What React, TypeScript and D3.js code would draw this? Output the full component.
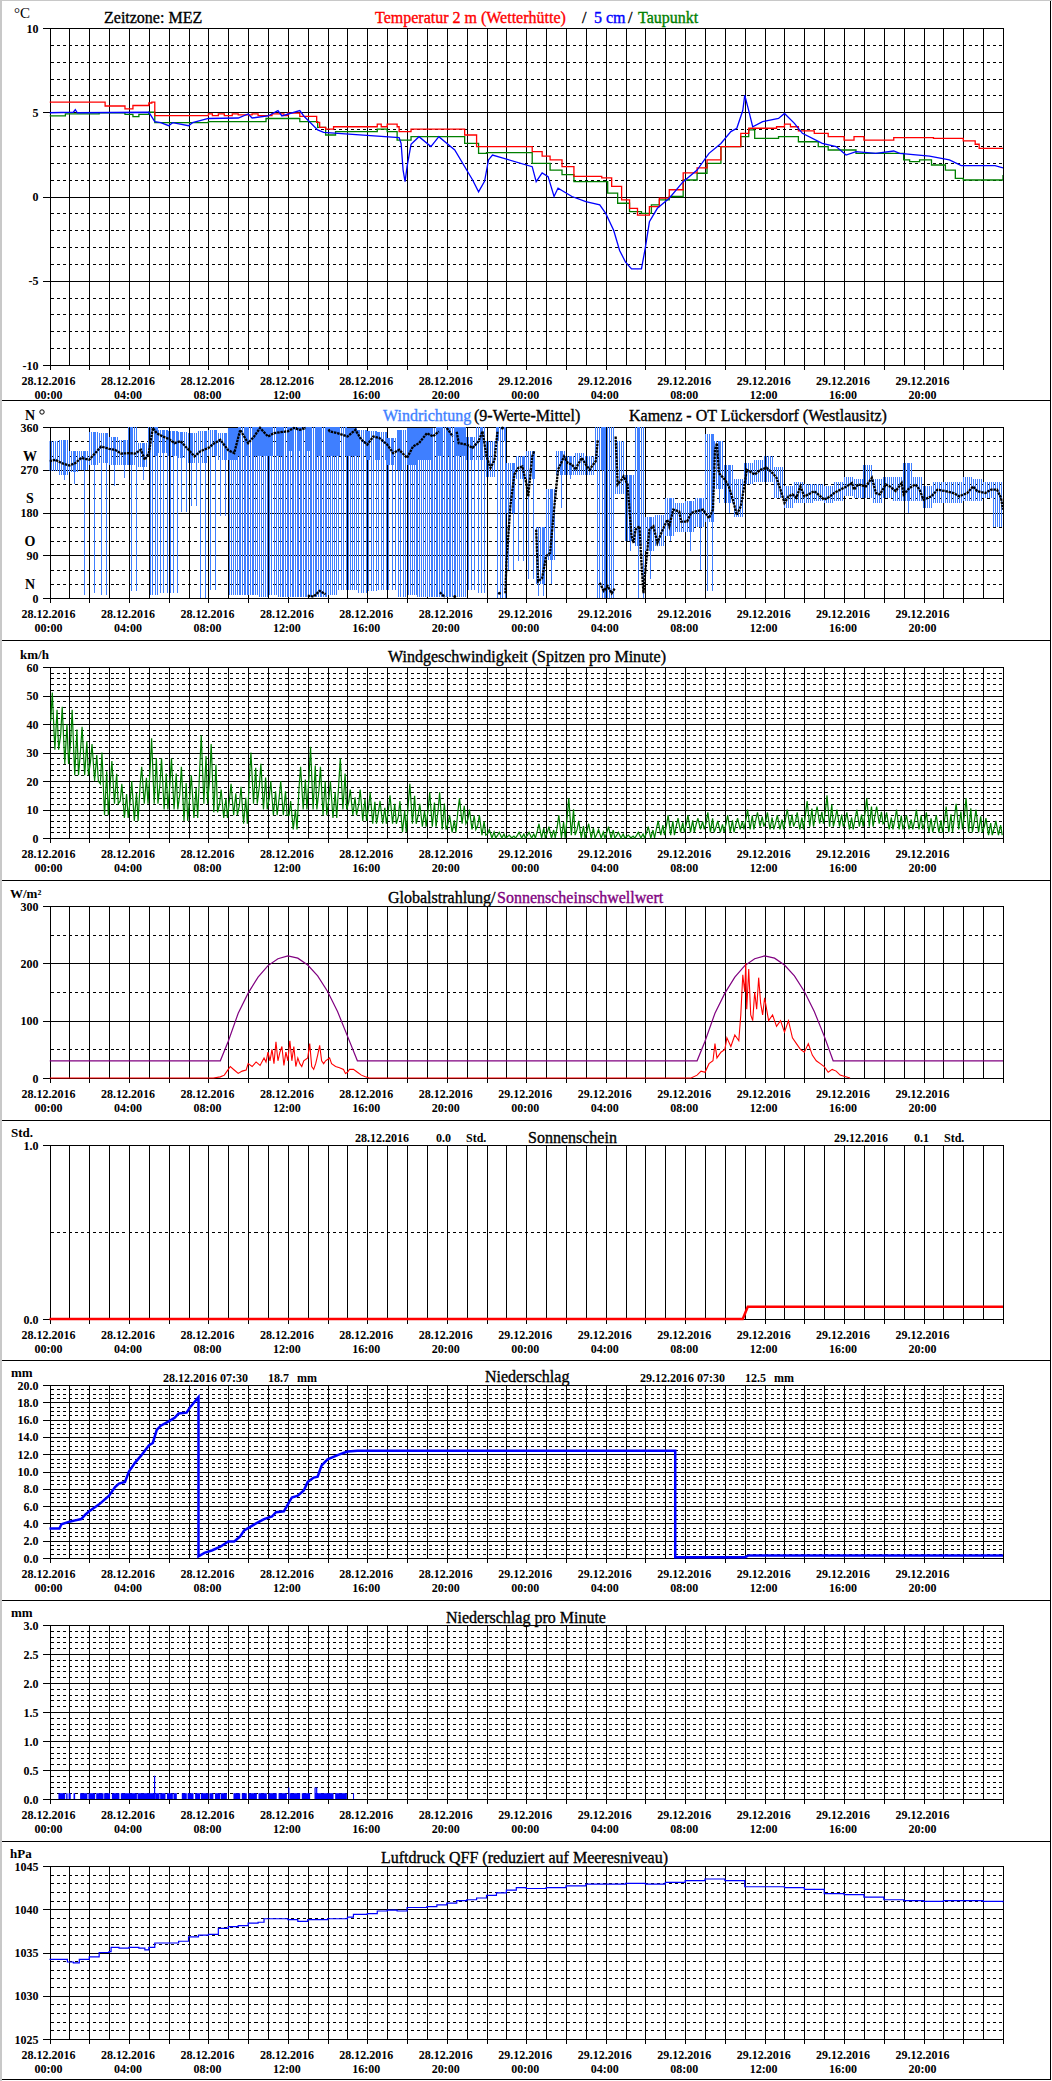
import React, { useEffect, useRef } from "react";
import * as d3 from "d3";

// ---------- labels ----------
const dayLabels = ["28.12.2016", "29.12.2016"];
const clockLabels = ["00:00", "04:00", "08:00", "12:00", "16:00", "20:00"];

// ---------- panel 1: temperature (hour, °C) ----------
const tempAir: [number, number][] = [[0,5.6],[2.8,5.37],[3.8,5.2],[4.2,5.4],[5.0,5.55],[5.15,5.6],[5.3,4.8],[7.9,4.8],[8.0,4.9],[8.2,4.8],[8.5,4.9],[8.8,4.8],[9.2,4.9],[9.5,4.85],[10.2,4.9],[10.5,4.8],[11.2,4.9],[11.8,4.8],[12.0,4.95],[12.6,4.75],[13.45,4.4],[13.6,4.1],[13.9,4.0],[14.3,4.14],[16.5,4.3],[16.7,4.14],[17.0,4.3],[17.5,4.14],[17.6,3.85],[18.2,4.0],[20.9,3.65],[21.5,2.96],[24.3,2.66],[24.8,2.4],[25.2,2.17],[25.8,1.77],[26.4,1.2],[27.8,1.1],[28.3,0.6],[28.8,-0.2],[29.2,-0.7],[29.6,-1.1],[30.2,-0.6],[30.7,-0.1],[31.2,0.4],[31.9,1.4],[32.6,1.7],[33.1,2.17],[33.8,2.96],[34.8,3.75],[35.2,4.05],[36.6,4.14],[37.0,4.3],[37.3,4.14],[37.7,3.9],[38.5,3.75],[39.2,3.55],[40,3.35],[40.5,3.55],[41,3.35],[42.5,3.5],[43.5,3.5],[44.5,3.45],[45.5,3.45],[46.0,3.3],[46.6,3.1],[46.8,2.86],[48,2.86]];
const temp5cm: [number, number][] = [[0,4.97],[1.2,5.0],[1.3,5.15],[1.4,4.97],[5.0,5.0],[5.3,4.44],[5.6,4.38],[6.0,4.2],[6.2,4.38],[7.0,4.2],[7.2,4.38],[8.0,4.63],[9.5,4.66],[10.0,4.9],[10.2,4.66],[11.0,4.78],[11.5,5.1],[11.7,4.78],[12.6,5.1],[12.8,4.78],[13.5,3.95],[13.8,3.8],[17.6,3.5],[17.7,3.15],[17.8,1.57],[17.9,0.88],[18.0,1.77],[18.2,3.1],[18.6,3.55],[19.2,2.96],[19.6,3.55],[20.4,2.76],[21.3,0.98],[21.6,0.28],[21.9,0.9],[22.1,2.17],[22.3,2.46],[24.3,1.77],[24.5,0.88],[24.8,1.4],[25.1,1.18],[25.4,0.0],[25.6,0.5],[26.3,0.0],[27.0,-0.3],[27.7,-0.5],[28.0,-1.0],[28.4,-2.0],[28.7,-3.2],[29.0,-3.9],[29.3,-4.3],[29.8,-4.3],[30.0,-3.0],[30.2,-1.5],[30.6,-0.7],[31.2,-0.1],[31.9,0.88],[32.6,1.57],[33.2,2.56],[33.8,3.15],[34.3,3.85],[34.6,4.05],[34.9,5.1],[35.0,6.02],[35.2,5.1],[35.4,4.14],[35.9,4.44],[36.7,4.63],[37.0,4.93],[37.5,4.34],[37.9,3.75],[38.9,3.15],[39.6,2.96],[40.1,2.46],[40.6,2.66],[41.6,2.56],[42.5,2.7],[42.8,2.56],[44.3,2.4],[45.3,2.17],[45.9,1.83],[47.6,1.83],[48,1.7]];
const tempDew: [number, number][] = [[0,4.78],[0.8,4.9],[2.5,4.97],[3.8,4.87],[4.2,4.74],[4.5,4.87],[5.0,5.0],[5.3,4.38],[8.0,4.44],[10.9,4.63],[12.6,4.44],[13.5,4.1],[13.9,3.65],[14.4,3.85],[16.5,4.0],[17.0,3.85],[17.5,3.35],[18.2,3.55],[20.9,3.15],[21.6,2.56],[22.0,2.6],[24.3,1.97],[25.2,1.57],[25.8,1.3],[26.4,0.88],[28.1,0.2],[28.6,-0.4],[29.2,-0.9],[29.8,-1.0],[30.3,-0.5],[30.7,-0.2],[31.2,0.0],[31.9,0.98],[32.6,1.38],[33.1,1.97],[33.8,2.96],[34.8,3.55],[35.2,3.95],[35.5,3.45],[36.7,3.55],[37.7,3.25],[38.7,2.96],[39.2,2.76],[40.6,2.56],[41.6,2.56],[43.0,2.17],[43.3,2.07],[43.8,2.17],[44.4,1.87],[45.1,1.57],[45.6,1.08],[46.0,0.98],[47.9,0.98],[48,1.28]];

// ---------- panel 2: wind direction ----------
const windDirMean: [number, number][] = [[0,288],[0.3,291],[0.6,284],[1.0,279],[1.3,284],[1.6,295],[2.0,291],[2.3,305],[2.6,319],[3.0,314],[3.3,312],[3.6,304],[4.0,305],[4.3,304],[4.6,312],[4.8,291],[5.0,305],[5.2,358],[5.4,347],[5.7,340],[6.0,335],[6.3,326],[6.6,330],[7.0,312],[7.3,298],[7.6,309],[8.0,316],[8.3,326],[8.6,333],[9.0,311],[9.3,305],[9.6,354],[10.0,326],[10.3,340],[10.6,358],[11.0,340],[11.3,347],[11.6,349],[12.0,351],[12.3,358],[12.6,354],[12.9,358],[13.0,5],[13.3,3],[13.6,15],[13.9,8],[14.05,355],[14.1,351],[14.5,347],[15.0,340],[15.4,354],[15.7,333],[16.0,323],[16.3,340],[16.6,337],[17.0,323],[17.3,305],[17.6,312],[18.0,295],[18.3,319],[18.6,326],[19.0,347],[19.3,340],[19.6,351],[19.65,12],[19.9,2],[20.0,358],[20.3,340],[20.4,3],[20.5,350],[20.6,326],[21.0,323],[21.3,316],[21.6,330],[21.8,351],[22.0,298],[22.2,274],[22.4,290],[22.55,350],[22.65,10],[22.8,358],[22.95,10],[23.0,74],[23.2,193],[23.4,260],[23.6,274],[23.8,277],[24.0,242],[24.1,214],[24.3,298],[24.4,309],[24.5,144],[24.6,35],[24.8,42],[25.0,88],[25.2,95],[25.4,186],[25.6,270],[25.8,288],[25.9,298],[26.1,284],[26.3,281],[26.5,270],[26.6,281],[26.8,295],[27.0,281],[27.2,270],[27.3,277],[27.5,288],[27.6,333],[27.7,32],[27.9,15],[28.1,25],[28.3,10],[28.45,20],[28.5,340],[28.6,239],[28.8,249],[28.9,256],[29.1,239],[29.3,130],[29.4,116],[29.5,144],[29.7,151],[29.8,74],[29.9,10],[30.0,60],[30.2,144],[30.4,151],[30.6,116],[30.8,137],[31.1,165],[31.2,151],[31.4,186],[31.7,182],[31.8,161],[32.1,161],[32.3,179],[32.5,182],[32.9,186],[33.2,168],[33.4,186],[33.5,312],[33.6,326],[33.7,263],[34.0,249],[34.2,235],[34.4,207],[34.6,175],[34.8,193],[35.0,242],[35.1,270],[35.5,260],[35.8,270],[36.1,274],[36.4,263],[36.6,253],[36.8,228],[37.0,200],[37.2,214],[37.4,218],[37.6,211],[37.8,235],[38.0,214],[38.2,218],[38.5,225],[38.7,218],[39.0,207],[39.3,214],[39.5,221],[39.8,228],[40.0,232],[40.4,242],[40.5,228],[40.7,239],[41.1,235],[41.4,253],[41.6,221],[41.8,218],[42.1,239],[42.3,235],[42.6,225],[42.9,242],[43.0,218],[43.3,232],[43.6,239],[43.8,228],[44.0,207],[44.4,214],[44.7,228],[45.1,225],[45.5,221],[45.8,214],[46.2,221],[46.5,235],[46.7,225],[47.1,221],[47.4,228],[47.7,228],[47.9,211],[48.0,186]];
// per 30-minute bin: top of raw values, bottom of dense band, deepest spike, number of deep spikes
const windRawHi = [330,333,310,309,349,347,340,333,360,326,360,354,351,349,347,351,354,347,358,360,360,360,360,360,360,360,360,360,360,360,358,354,351,349,337,354,358,358,358,360,360,360,340,360,330,360,285,300,310,150,230,310,300,305,300,360,360,330,260,360,170,175,210,200,205,210,345,330,280,250,285,290,300,275,235,245,240,240,235,245,255,250,280,250,255,255,285,255,235,245,245,245,255,250,245,245];
const windRawBand = [267,260,265,270,280,285,280,280,280,275,300,305,300,295,285,285,300,290,290,300,300,300,300,300,310,310,310,300,300,300,300,300,290,290,280,270,280,290,290,300,300,300,290,290,255,330,180,250,250,30,80,260,260,260,260,270,0,220,120,110,100,110,130,140,140,150,160,230,200,170,240,245,245,210,190,200,200,205,200,205,215,210,210,200,210,205,205,205,190,200,200,200,205,205,210,150];
const windRawLo = [267,249,239,7,10,7,235,253,14,249,7,10,10,182,193,0,17,172,7,7,7,3,7,3,3,3,3,3,7,17,17,10,14,17,17,3,7,3,3,3,3,3,17,10,255,0,60,77,40,5,30,190,250,255,255,0,0,220,100,0,40,100,120,130,100,60,15,200,180,160,240,240,240,200,185,195,195,200,195,205,215,210,205,195,210,205,180,205,180,195,200,200,205,205,210,150];
const windRawSpikes = [0,1,1,1,1,2,1,1,2,1,4,3,3,2,2,2,2,2,5,6,6,5,4,6,6,6,6,6,5,4,5,4,4,4,3,4,5,5,6,6,6,5,3,3,0,4,2,2,2,2,1,1,1,0,0,4,0,0,1,2,1,0,1,0,1,1,2,1,1,0,0,0,0,0,0,0,0,0,0,0,0,0,0,0,0,0,1,0,0,0,0,0,0,0,0,0];

// ---------- panel 3: wind speed peaks, per 30-minute bin ----------
const windSpeedHi = [51,46,45,39,33,30,27,19,20,25,35,28,28,25,22,36,33,17,19,18,30,26,20,20,13,25,32,25,20,28,17,17,16,13,15,13,19,12,16,16,8,14,10,8,3,2,1,2,2,5,4,8,14,6,5,3,4,2,1,2,4,6,8,7,8,7,9,6,8,7,10,9,9,8,10,9,13,11,15,10,9,10,14,11,9,10,8,10,9,8,11,12,14,10,7,6];
const windSpeedLo = [31,26,22,22,20,8,12,7,6,12,12,10,10,6,7,12,9,7,8,5,12,10,8,8,3,10,10,8,7,10,8,6,5,5,5,2,5,4,4,3,2,5,3,1,0,0,0,0,0,0,0,0,1,0,0,0,0,0,0,0,0,1,1,2,2,3,2,2,2,3,3,4,3,3,4,3,4,5,4,4,3,4,4,5,3,3,3,3,2,2,2,3,2,2,1,1];

// ---------- panel 4: global radiation & threshold ----------
const radiation: [number, number][] = [[0,0],[8.25,0],[8.6,2],[8.8,5],[9.0,15],[9.1,20],[9.3,14],[9.5,8],[9.7,12],[9.9,14],[10.0,25],[10.2,20],[10.4,28],[10.6,22],[10.8,35],[10.9,28],[11.0,45],[11.1,30],[11.2,50],[11.3,25],[11.4,63],[11.5,30],[11.6,45],[11.7,55],[11.8,22],[11.9,45],[12.0,30],[12.1,65],[12.2,30],[12.3,55],[12.4,20],[12.5,35],[12.6,25],[12.7,20],[12.8,30],[13.0,35],[13.1,60],[13.2,20],[13.3,15],[13.4,25],[13.5,40],[13.6,57],[13.7,30],[13.8,25],[13.9,30],[14.1,35],[14.2,25],[14.4,20],[14.6,18],[14.8,15],[14.9,8],[15.0,10],[15.1,15],[15.3,15],[15.5,10],[15.7,5],[15.9,2],[16.1,0],[32.3,0],[32.6,5],[32.8,12],[33.0,10],[33.2,25],[33.4,30],[33.5,60],[33.6,35],[33.8,45],[34.0,50],[34.1,70],[34.3,55],[34.5,75],[34.7,65],[34.8,110],[34.9,180],[35.0,150],[35.05,200],[35.1,120],[35.2,190],[35.3,110],[35.4,100],[35.5,150],[35.6,120],[35.7,175],[35.8,130],[35.9,110],[36.0,140],[36.2,100],[36.4,110],[36.6,90],[36.8,100],[37.0,80],[37.2,100],[37.4,70],[37.6,60],[37.8,50],[38.0,45],[38.2,60],[38.4,40],[38.6,30],[38.8,25],[39.0,20],[39.2,10],[39.4,15],[39.6,12],[39.8,5],[40.0,3],[40.3,0]];
const sunThreshold: [number, number][] = [[0,30],[8.6,30],[9.0,64],[9.5,113],[10.0,148],[10.5,176],[11.0,196],[11.5,208],[12.0,213],[12.5,209],[13.0,197],[13.5,178],[14.0,151],[14.5,116],[15.0,73],[15.5,30],[32.6,30],[33.0,64],[33.5,113],[34.0,148],[34.5,176],[35.0,196],[35.5,208],[36.0,213],[36.5,209],[37.0,197],[37.5,178],[38.0,151],[38.5,116],[39.0,73],[39.45,30],[48,30]];

// ---------- panel 5: sunshine hours ----------
const sunshine: [number, number][] = [[0,0],[34.9,0],[35.15,0.07],[48,0.07]];

// ---------- panel 6: precipitation sum ----------
const precipSum: [number, number][] = [[0,3.4],[0.5,3.4],[0.6,3.9],[1.0,4.2],[1.3,4.35],[1.6,4.5],[1.8,5.0],[2.0,5.4],[2.5,6.2],[3.0,7.2],[3.3,8.2],[3.5,8.6],[3.8,8.8],[4.0,10.0],[4.3,11.0],[4.6,11.8],[5.0,13.0],[5.2,13.3],[5.4,14.8],[5.6,15.3],[6.0,15.8],[6.3,16.2],[6.5,16.7],[6.9,16.8],[7.1,17.5],[7.5,18.6],[7.5,0.2],[7.8,0.6],[8.2,0.9],[8.6,1.3],[9.0,1.9],[9.3,1.9],[9.6,2.5],[9.8,3.2],[10.1,3.6],[10.4,4.0],[10.8,4.5],[11.2,4.8],[11.4,5.3],[11.8,5.4],[12.0,6.2],[12.2,7.0],[12.5,7.2],[12.8,7.8],[13.0,8.8],[13.3,9.3],[13.5,9.4],[13.7,10.7],[14.0,11.4],[14.5,11.9],[15.0,12.3],[15.5,12.4],[31.5,12.4],[31.5,0.1],[35.0,0.1],[35.2,0.3],[48,0.3]];

// ---------- panel 7: precipitation per minute ----------
const precipRuns: [number, number][] = [[0.45,0.79],[0.84,0.91],[0.96,1.07],[1.21,1.29],[1.54,1.91],[1.96,2.30],[2.35,2.72],[2.75,3.05],[3.14,3.52],[3.59,4.40],[4.43,5.27],[5.32,5.54],[5.57,5.84],[5.91,6.21],[6.24,6.41],[6.66,6.91],[6.95,7.25],[7.33,7.58],[7.62,8.0],[8.05,8.25],[8.33,8.6],[8.63,8.93],[9.26,9.60],[9.68,9.93],[10.02,10.44],[10.52,10.94],[11.02,11.44],[11.53,11.95],[12.08,12.62],[12.70,13.12],[13.37,14.30],[14.38,14.97],[15.28,15.31]];
const precipRunValue = 0.1;
const precipPeaks: [number, number][] = [[5.29,0.4],[12.05,0.2],[13.37,0.2],[13.45,0.2]];

// ---------- panel 8: pressure ----------
const pressure: [number, number][] = [[0,1034.2],[0.9,1033.9],[1.2,1033.8],[1.5,1034.2],[2.0,1034.5],[2.5,1035.0],[3.0,1035.1],[3.1,1035.6],[3.5,1035.5],[4.0,1035.6],[4.5,1035.5],[4.8,1035.3],[5.0,1035.6],[5.3,1036.1],[6.0,1036.1],[6.5,1036.3],[7.0,1036.8],[7.5,1037.0],[8.0,1037.1],[8.5,1037.8],[9.0,1038.0],[9.5,1038.1],[10.0,1038.4],[10.5,1038.5],[10.8,1038.9],[12.0,1038.8],[12.5,1038.6],[13.0,1038.8],[14.0,1038.9],[15.0,1039.1],[15.3,1039.4],[16.0,1039.5],[16.5,1039.8],[17.0,1039.9],[17.5,1039.8],[18.0,1040.2],[19.0,1040.3],[19.5,1040.5],[20.0,1040.7],[20.5,1041.0],[21.0,1041.1],[21.5,1041.3],[22.0,1041.6],[22.5,1041.9],[23.0,1042.2],[23.5,1042.5],[24.0,1042.4],[25,1042.5],[26,1042.7],[27,1042.9],[29,1043.0],[30,1042.9],[31,1043.1],[32,1043.3],[33,1043.5],[34,1043.3],[35,1042.6],[37,1042.5],[38,1042.3],[39,1041.8],[40,1041.7],[41,1041.4],[42,1041.1],[43,1041.0],[44,1040.9],[45,1041.0],[47,1040.9],[48,1040.8]];

// ---------- layout ----------
const FONT = "'Liberation Serif', 'Times New Roman', serif";
const X_LEFT = 49.5;
const X_RIGHT = 1003;
const HOURS = 48;
const DIR_BLUE = "#3f7fff";

type Panel = {
  top: number; bottom: number; domain: [number, number];
  solid: number; dash: number; fmt: (v: number) => string; unit: string; unitX: number; sep: number;
};

const panels: Panel[] = [
  { top: 28, bottom: 365, domain: [-10, 10], solid: 5, dash: 1, fmt: (v) => String(v), unit: "°C", unitX: 14, sep: 400 },
  { top: 427, bottom: 598, domain: [0, 360], solid: 90, dash: 30, fmt: (v) => String(v), unit: "N", unitX: 25, sep: 640 },
  { top: 667, bottom: 838, domain: [0, 60], solid: 10, dash: 2, fmt: (v) => String(v), unit: "km/h", unitX: 20, sep: 880 },
  { top: 906, bottom: 1078, domain: [0, 300], solid: 100, dash: 50, fmt: (v) => String(v), unit: "W/m²", unitX: 10, sep: 1120 },
  { top: 1145, bottom: 1319, domain: [0, 1], solid: 1, dash: 0.5, fmt: (v) => v.toFixed(1), unit: "Std.", unitX: 11, sep: 1360 },
  { top: 1385, bottom: 1558, domain: [0, 20], solid: 2, dash: 0.5, fmt: (v) => v.toFixed(1), unit: "mm", unitX: 11, sep: 1600 },
  { top: 1625, bottom: 1799, domain: [0, 3], solid: 0.5, dash: 0.1, fmt: (v) => v.toFixed(1), unit: "mm", unitX: 11, sep: 1841 },
  { top: 1866, bottom: 2039, domain: [1025, 1045], solid: 5, dash: 1, fmt: (v) => String(v), unit: "hPa", unitX: 10, sep: 2079 },
];

export default function App() {
  const ref = useRef<SVGSVGElement>(null);
  useEffect(() => {
    const svg = d3.select(ref.current);
    svg.selectAll("*").remove();
    const x = d3.scaleLinear().domain([0, HOURS]).range([X_LEFT, X_RIGHT]);
    const sx = (h: number) => Math.round(x(h)) + 0.5;

    svg.append("rect").attr("width", 1052).attr("height", 2081).attr("fill", "#fff");
    svg.append("rect").attr("x", 0).attr("y", 0).attr("width", 2).attr("height", 2081).attr("fill", "#c8c8c8");
    svg.append("rect").attr("x", 0).attr("y", 0).attr("width", 1052).attr("height", 1).attr("fill", "#c8c8c8");
    svg.append("line").attr("x1", 1050.5).attr("x2", 1050.5).attr("y1", 1).attr("y2", 2080).attr("stroke", "#000");

    const ys: d3.ScaleLinear<number, number>[] = [];

    panels.forEach((p, pi) => {
      const g = svg.append("g");
      const y = d3.scaleLinear().domain(p.domain).range([p.bottom, p.top]);
      ys.push(y);
      const syv = (v: number) => Math.round(y(v)) + 0.5;
      const [d0, d1] = p.domain;
      const nDash = Math.round((d1 - d0) / p.dash);
      const ratio = Math.round(p.solid / p.dash);
      for (let i = 1; i < nDash; i++) {
        if (i % ratio === 0) continue;
        const v = d0 + i * p.dash;
        g.append("line").attr("x1", sx(0)).attr("x2", sx(HOURS)).attr("y1", syv(v)).attr("y2", syv(v))
          .attr("stroke", "#000").attr("stroke-dasharray", "3,3").attr("shape-rendering", "crispEdges");
      }
      for (let h = 0; h <= HOURS; h++) {
        g.append("line").attr("x1", sx(h)).attr("x2", sx(h)).attr("y1", syv(d1)).attr("y2", syv(d0) + (h % 2 === 0 ? 4 : 0))
          .attr("stroke", "#000").attr("shape-rendering", "crispEdges");
      }
      const nSolid = Math.round((d1 - d0) / p.solid);
      for (let i = 0; i <= nSolid; i++) {
        const v = d0 + i * p.solid;
        g.append("line").attr("x1", 43).attr("x2", sx(HOURS)).attr("y1", syv(v)).attr("y2", syv(v))
          .attr("stroke", "#000").attr("shape-rendering", "crispEdges");
        g.append("text").attr("x", 38.5).attr("y", y(v) + 4.5).attr("text-anchor", "end")
          .attr("font-family", FONT).attr("font-weight", "bold").attr("font-size", 12).text(p.fmt(v));
      }
      for (let h = 0; h < HOURS; h += 4) {
        const day = dayLabels[Math.floor(h / 24)];
        const clock = clockLabels[(h % 24) / 4];
        const t = g.append("text").attr("font-family", FONT).attr("font-weight", "bold").attr("font-size", 12)
          .attr("text-anchor", "middle");
        t.append("tspan").attr("x", x(h) - 1).attr("y", p.bottom + 19.5).text(day);
        t.append("tspan").attr("x", x(h) - 1).attr("y", p.bottom + 33.5).text(clock);
      }
      svg.append("line").attr("x1", 2).attr("x2", 1050).attr("y1", p.sep + 0.5).attr("y2", p.sep + 0.5).attr("stroke", "#000");
      if (pi === 0) {
        g.append("text").attr("x", p.unitX).attr("y", p.top - 10).attr("font-family", FONT).attr("font-size", 15).text(p.unit);
      } else if (pi === 1) {
        g.append("text").attr("x", p.unitX).attr("y", p.top - 7).attr("font-family", FONT).attr("font-weight", "bold").attr("font-size", 14).text(p.unit);
        g.append("circle").attr("cx", 42).attr("cy", p.top - 15).attr("r", 2.2).attr("fill", "none").attr("stroke", "#000");
      } else {
        g.append("text").attr("x", p.unitX).attr("y", p.top - 8).attr("font-family", FONT).attr("font-weight", "bold").attr("font-size", 13).text(p.unit);
      }
    });

    const addText = (xx: number, yy: number, txt: string, size: number, color = "#000", bold = false) =>
      svg.append("text").attr("x", xx).attr("y", yy).attr("font-family", FONT).attr("font-size", size)
        .attr("font-weight", bold ? "bold" : "normal").attr("fill", color).text(txt);
    // titles: 16px serif, slightly heavier stroke like the original raster font
    const addTitle = (xx: number, yy: number, txt: string, color = "#000") =>
      addText(xx, yy, txt, 16, color).attr("stroke", color).attr("stroke-width", 0.35);

    const yDir = ys[1];
    [["W", 300], ["S", 210], ["O", 120], ["N", 30]].forEach(([l, v]) => {
      svg.append("text").attr("x", 30).attr("y", yDir(v as number) + 5).attr("text-anchor", "middle")
        .attr("font-family", FONT).attr("font-weight", "bold").attr("font-size", 14).text(l as string);
    });

    // titles
    addTitle(104, 22.5, "Zeitzone: MEZ");
    addTitle(375, 22.5, "Temperatur 2 m (Wetterhütte)", "#ff0000");
    addTitle(582, 22.5, "/");
    addTitle(594, 22.5, "5 cm", "#0000ff");
    addTitle(628, 22.5, "/");
    addTitle(638, 22.5, "Taupunkt", "#008000");

    addTitle(383, 421, "Windrichtung", DIR_BLUE);
    addTitle(474, 421, "(9-Werte-Mittel)");
    addTitle(629, 421, "Kamenz - OT Lückersdorf (Westlausitz)");

    addTitle(388, 662, "Windgeschwindigkeit (Spitzen pro Minute)");
    addTitle(388, 903, "Globalstrahlung/");
    addTitle(497, 903, "Sonnenscheinschwellwert", "#800080");

    addText(355, 1142, "28.12.2016", 12, "#000", true);
    addText(436, 1142, "0.0", 12, "#000", true);
    addText(466, 1142, "Std.", 12, "#000", true);
    addTitle(528, 1143, "Sonnenschein");
    addText(834, 1142, "29.12.2016", 12, "#000", true);
    addText(914, 1142, "0.1", 12, "#000", true);
    addText(944, 1142, "Std.", 12, "#000", true);

    addText(163, 1382, "28.12.2016 07:30", 12, "#000", true);
    addText(268, 1382, "18.7", 12, "#000", true);
    addText(297, 1382, "mm", 12, "#000", true);
    addTitle(485, 1382, "Niederschlag");
    addText(640, 1382, "29.12.2016 07:30", 12, "#000", true);
    addText(745, 1382, "12.5", 12, "#000", true);
    addText(774, 1382, "mm", 12, "#000", true);

    addTitle(446, 1622.5, "Niederschlag pro Minute");
    addTitle(381, 1863, "Luftdruck QFF (reduziert auf Meeresniveau)");

    // ---------- data ----------
    const lineStep = (y: d3.ScaleLinear<number, number>) =>
      d3.line<[number, number]>().x((d) => x(d[0])).y((d) => y(d[1])).curve(d3.curveStepAfter);
    const lineLin = (y: d3.ScaleLinear<number, number>) =>
      d3.line<[number, number]>().x((d) => x(d[0])).y((d) => y(d[1]));

    const clip = (pi: number) => {
      const id = "clip" + pi;
      svg.append("clipPath").attr("id", id).append("rect")
        .attr("x", x(0)).attr("y", panels[pi].top - 1).attr("width", x(HOURS) - x(0)).attr("height", panels[pi].bottom - panels[pi].top + 2);
      return `url(#${id})`;
    };

    const g1 = svg.append("g").attr("clip-path", clip(0));
    g1.append("path").attr("d", lineStep(ys[0])(tempDew)).attr("fill", "none").attr("stroke", "#008000").attr("stroke-width", 1.3);
    g1.append("path").attr("d", lineStep(ys[0])(tempAir)).attr("fill", "none").attr("stroke", "#ff0000").attr("stroke-width", 1.3);
    g1.append("path").attr("d", lineLin(ys[0])(temp5cm)).attr("fill", "none").attr("stroke", "#0000ff").attr("stroke-width", 1.3);

    // wind direction raw (crisp 1px strokes)
    const g2 = svg.append("g").attr("clip-path", clip(1)).attr("shape-rendering", "crispEdges");
    const yd = ys[1];
    const binW = 0.5;
    windRawHi.forEach((hi, i) => {
      const t0 = i * binW;
      const band = windRawBand[i];
      const px0 = x(t0);
      for (let k = 0; k < 5; k++) {
        const xx = Math.floor(px0 + k * 2) + 0.5;
        g2.append("line").attr("x1", xx).attr("x2", xx).attr("y1", yd(hi)).attr("y2", yd(band))
          .attr("stroke", DIR_BLUE).attr("stroke-width", 1);
      }
      const n = windRawSpikes[i];
      for (let k = 0; k < n; k++) {
        const xx = Math.floor(px0 + (k + 0.5) * 10 / n) + 0.5;
        g2.append("line").attr("x1", xx).attr("x2", xx).attr("y1", yd(hi)).attr("y2", yd(windRawLo[i]))
          .attr("stroke", DIR_BLUE).attr("stroke-width", 1);
      }
    });
    const segs: [number, number][][] = [];
    let cur: [number, number][] = [];
    windDirMean.forEach((d, i) => {
      if (i > 0 && Math.abs(d[1] - windDirMean[i - 1][1]) > 150) {
        segs.push(cur);
        cur = [];
      }
      cur.push(d);
    });
    segs.push(cur);
    const g2b = svg.append("g").attr("clip-path", clip(1));
    segs.forEach((s) => {
      if (s.length === 1) {
        g2b.append("circle").attr("cx", x(s[0][0])).attr("cy", yd(s[0][1])).attr("r", 1.5).attr("fill", "#000");
      } else {
        g2b.append("path").attr("d", lineLin(yd)(s)).attr("fill", "none").attr("stroke", "#000").attr("stroke-width", 2.3)
          .attr("stroke-dasharray", "2.5,0.8");
      }
    });

    // wind speed zigzag
    const g3 = svg.append("g").attr("clip-path", clip(2));
    const zig: [number, number][] = [];
    windSpeedHi.forEach((hi, i) => {
      zig.push([i * 0.5 + 0.06, (hi + windSpeedLo[i]) / 2]);
      zig.push([i * 0.5 + 0.14, hi]);
      zig.push([i * 0.5 + 0.27, windSpeedLo[i]]);
      zig.push([i * 0.5 + 0.38, hi * 0.7 + windSpeedLo[i] * 0.3]);
      zig.push([i * 0.5 + 0.46, windSpeedLo[i]]);
    });
    g3.append("path").attr("d", lineLin(ys[2])(zig)).attr("fill", "none").attr("stroke", "#008000").attr("stroke-width", 1.2);

    const g4 = svg.append("g").attr("clip-path", clip(3));
    g4.append("path").attr("d", lineLin(ys[3])(sunThreshold)).attr("fill", "none").attr("stroke", "#800080").attr("stroke-width", 1.2);
    g4.append("path").attr("d", lineLin(ys[3])(radiation)).attr("fill", "none").attr("stroke", "#ff0000").attr("stroke-width", 1.1);

    svg.append("path").attr("d", lineLin(ys[4])(sunshine)).attr("fill", "none").attr("stroke", "#ff0000").attr("stroke-width", 2.5);

    svg.append("path").attr("d", lineLin(ys[5])(precipSum)).attr("fill", "none").attr("stroke", "#0000ff").attr("stroke-width", 2.5);

    const y7 = ys[6];
    precipRuns.forEach(([a, b]) => {
      svg.append("rect").attr("x", x(a)).attr("width", Math.max(1, x(b) - x(a))).attr("y", y7(precipRunValue)).attr("height", y7(0) - y7(precipRunValue))
        .attr("fill", "#0000ff");
    });
    precipPeaks.forEach(([h, v]) => {
      svg.append("line").attr("x1", x(h)).attr("x2", x(h)).attr("y1", y7(0)).attr("y2", y7(v)).attr("stroke", "#0000ff").attr("stroke-width", 1.2);
    });

    svg.append("path").attr("d", lineStep(ys[7])(pressure)).attr("fill", "none").attr("stroke", "#0000ff").attr("stroke-width", 1.2);
  }, []);
  return <svg ref={ref} width={1052} height={2081} style={{ position: "absolute", left: 0, top: 0, display: "block" }} />;
}
